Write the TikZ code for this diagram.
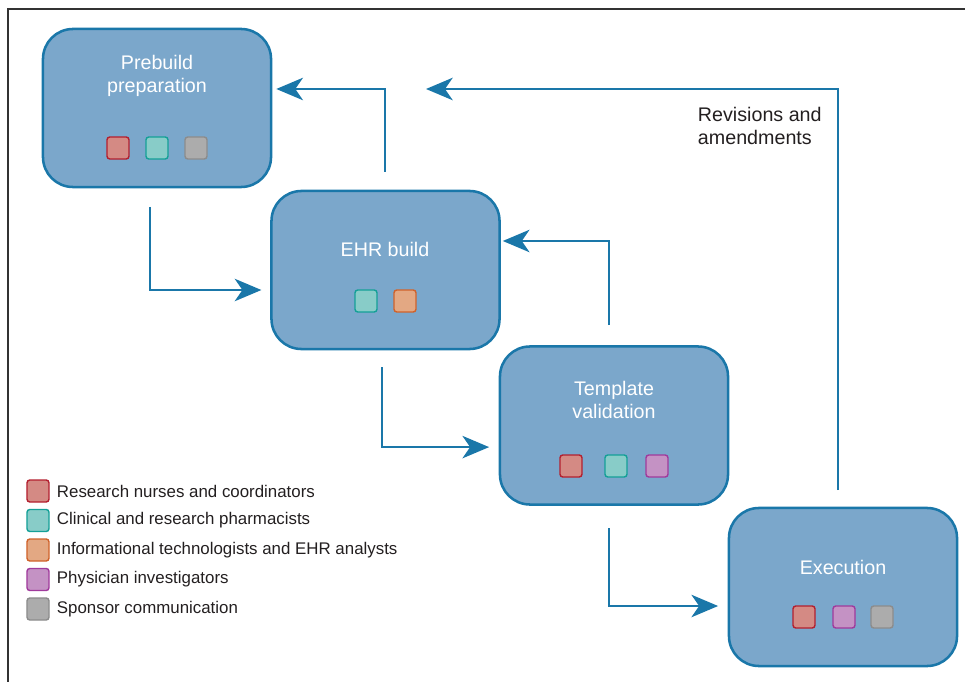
\documentclass[tikz,border=0pt]{standalone}
\usepackage{fontspec}
\setmainfont{Liberation Sans}
\usetikzlibrary{arrows.meta}
\definecolor{boxfill}{HTML}{7BA7CB}
\definecolor{boxline}{HTML}{1A77A9}
\definecolor{nursefill}{HTML}{D48A84}
\definecolor{nurseline}{HTML}{B3202F}
\definecolor{pharmfill}{HTML}{88CCC8}
\definecolor{pharmline}{HTML}{14A097}
\definecolor{techfill}{HTML}{E3A883}
\definecolor{techline}{HTML}{D0622B}
\definecolor{physfill}{HTML}{C492C4}
\definecolor{physline}{HTML}{A03A9C}
\definecolor{sponsfill}{HTML}{ACACAC}
\definecolor{sponsline}{HTML}{8C8C8C}
\definecolor{legtext}{HTML}{231F20}
\tikzset{
  stage/.style={draw=boxline, fill=boxfill, line width=1.8pt, rounded corners=0.75cm,
    minimum width=5.7cm, minimum height=3.95cm},
  stagetxt/.style={text=white, font=\fontsize{14}{16.3}\selectfont, align=center},
  member/.style={draw=#1line, fill=#1fill, line width=1pt, rounded corners=2pt,
    minimum size=0.55cm, inner sep=0pt},
  flow/.style={draw=boxline, line width=1.4pt, -{Stealth[length=19pt, width=16pt, inset=5.5pt]}},
  legtxt/.style={text=legtext, font=\fontsize{12}{14}\selectfont, anchor=west}
}
\begin{document}
\begin{tikzpicture}[x=0.025cm, y=-0.025cm]
  \useasboundingbox (0,0) rectangle (965,682);
  \draw[line width=0.8pt, black!80] (8,682) -- (8,9) -- (965,9);

  \node[stage] (prebuild) at (157,108) {};
  \node[stagetxt] (prebuild-txt) at (157,76) {Prebuild\\preparation};
  \node[member=nurse] (prebuild-1) at (118,148) {};
  \node[member=pharm] (prebuild-2) at (157,148) {};
  \node[member=spons] (prebuild-3) at (196,148) {};

  \node[stage] (ehr) at (385.5,270) {};
  \node[stagetxt] (ehr-txt) at (385,249) {EHR build};
  \node[member=pharm] (ehr-1) at (366,301) {};
  \node[member=tech] (ehr-2) at (405,301) {};

  \node[stage] (valid) at (614,425.5) {};
  \node[stagetxt] (valid-txt) at (614,400) {Template\\validation};
  \node[member=nurse] (valid-1) at (571,466) {};
  \node[member=pharm] (valid-2) at (616,466) {};
  \node[member=phys] (valid-3) at (657,466) {};

  \node[stage] (exec) at (843,587) {};
  \node[stagetxt] (exec-txt) at (843,567) {Execution};
  \node[member=nurse] (exec-1) at (804,617) {};
  \node[member=phys] (exec-2) at (844,617) {};
  \node[member=spons] (exec-3) at (882,617) {};

  \coordinate (s1) at (150,207);
  \coordinate (s2) at (382,367);
  \coordinate (s3) at (609,528);
  \coordinate (s4) at (609,325);
  \coordinate (s5) at (385,172);
  \coordinate (s6) at (838,490);
  \coordinate (r6) at (426,89);

  \draw[flow, shorten >=0.22cm] (s1) |- ([yshift=-0.5cm]ehr.west);
  \draw[flow, shorten >=0.24cm] (s2) |- ([yshift=-0.54cm]valid.west);
  \draw[flow, shorten >=0.24cm] (s3) |- ([yshift=-0.475cm]exec.west);
  \draw[flow, shorten >=0.05cm] (s4) |- ([yshift=0.725cm]ehr.east);
  \draw[flow, shorten >=0.1cm] (s5) |- ([yshift=0.475cm]prebuild.east);
  \draw[flow] (s6) |- (r6);

  \node[text=legtext, font=\fontsize{14}{16.3}\selectfont, align=left, anchor=west]
    (revisions) at (693,126) {Revisions and\\amendments};

  \foreach \who/\txt [count=\i] in {nurse/Research nurses and coordinators,
      pharm/Clinical and research pharmacists,
      tech/Informational technologists and EHR analysts,
      phys/Physician investigators,
      spons/Sponsor communication} {
    \node[member=\who] (leg-\i) at (38,{491+29.5*(\i-1)}) {};
    \node[legtxt] (leg-\i-txt) at (52,{491+29.5*(\i-1)}) {\txt};
  }
\end{tikzpicture}
\end{document}
